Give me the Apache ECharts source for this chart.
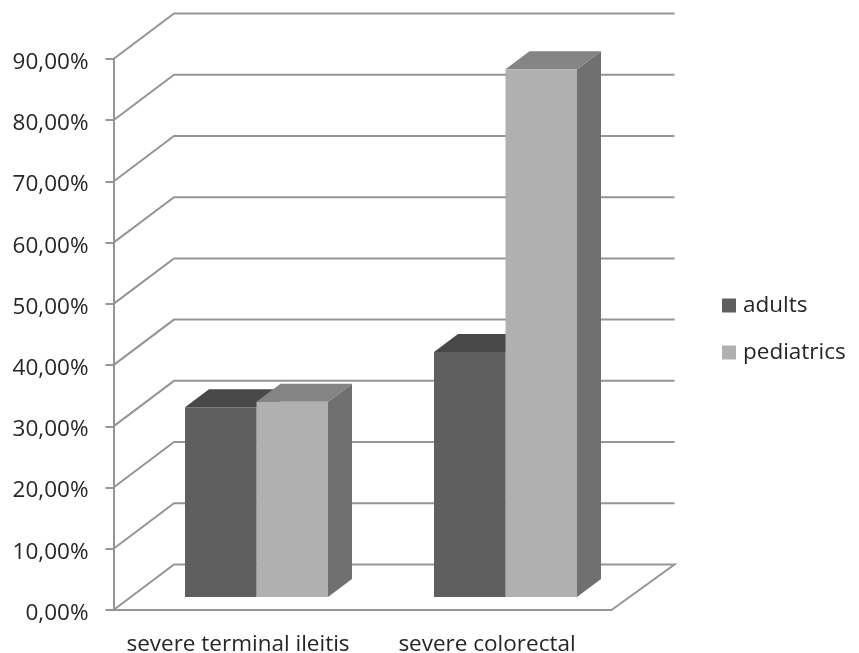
<!DOCTYPE html>
<html>
<head>
<meta charset="utf-8">
<style>html,body{margin:0;padding:0;background:#fff}#chart{width:859px;height:653px}</style>
<script src="https://cdn.jsdelivr.net/npm/echarts@6/dist/echarts.min.js"></script>
</head>
<body>
<div id="chart"></div>
<script>
// Severity share by location, adults versus pediatrics
const categories = ['severe terminal ileitis', 'severe colorectal'];
const adults = [0.31, 0.40];
const pediatrics = [0.319, 0.862];
const gridLevels = [0, 0.1, 0.2, 0.3, 0.4, 0.5, 0.6, 0.7, 0.8, 0.9];

// Oblique projection of the chart box and the bars inside it
const WALL_DX_LEFT = 60.5, WALL_DX_RIGHT = 63, WALL_DY = -45.5;
const BAR_SHIFT_X = 18.5, BAR_SHIFT_Y = -13;
const BAR_DX = 24, BAR_DY = -18;
const BAR_WIDTH = 71.5;

const FONT = '"Open Sans", sans-serif';
const FONT_SIZE = 22.5;
const LINE = '#959595';
const TEXT = '#262626';

function pct(v) {
  return (v * 100).toFixed(2).replace('.', ',') + '%';
}

// Back wall and side wall rules for one gridline level, plus the floor edge
function renderGrid(params, api) {
  const box = params.coordSys;
  const y = api.coord([0, api.value(1)])[1];
  const x0 = box.x, x1 = box.x + box.width;
  const points = [[x0, y], [x0 + WALL_DX_LEFT, y + WALL_DY], [x1 + WALL_DX_RIGHT, y + WALL_DY]];
  if (api.value(1) === 0) points.push([x1, y]);
  return {
    type: 'polyline',
    silent: true,
    shape: { points },
    style: { fill: null, stroke: LINE, lineWidth: 2 }
  };
}

// One 3D bar: side and top faces behind a flat front face
function barRenderer(side, colors) {
  return function (params, api) {
    const cat = api.value(0);
    const top = api.coord([cat, api.value(1)]);
    const base = api.coord([cat, 0]);
    const left = top[0] + BAR_SHIFT_X + (side < 0 ? -BAR_WIDTH : 0);
    const right = left + BAR_WIDTH;
    const yTop = top[1] + BAR_SHIFT_Y;
    const yBase = base[1] + BAR_SHIFT_Y;
    return {
      type: 'group',
      children: [
        { type: 'polygon', shape: { points: [[right, yTop], [right + BAR_DX, yTop + BAR_DY], [right + BAR_DX, yBase + BAR_DY], [right, yBase]] }, style: { fill: colors.side } },
        { type: 'polygon', shape: { points: [[left, yTop], [left + BAR_DX, yTop + BAR_DY], [right + BAR_DX, yTop + BAR_DY], [right, yTop]] }, style: { fill: colors.top } },
        { type: 'rect', shape: { x: left, y: yTop, width: BAR_WIDTH, height: yBase - yTop }, style: { fill: colors.front } }
      ]
    };
  };
}

const toPairs = values => values.map((v, i) => [i, v]);

const chart = echarts.init(document.getElementById('chart'), null, { renderer: 'canvas' });
chart.setOption({
  animation: false,
  backgroundColor: '#ffffff',
  grid: { left: 113.5, top: 59, width: 498, height: 551, containLabel: false, outerBoundsMode: 'none' },
  legend: {
    data: ['adults', 'pediatrics'],
    orient: 'vertical',
    left: 722,
    top: 294,
    padding: 0,
    icon: 'rect',
    itemWidth: 14,
    itemHeight: 14,
    itemGap: 24,
    textStyle: { fontFamily: FONT, fontSize: FONT_SIZE, color: TEXT, padding: [0, 0, 0, 2] }
  },
  xAxis: {
    type: 'category',
    data: categories,
    axisLine: { lineStyle: { color: LINE, width: 2 } },
    axisTick: { length: 7, lineStyle: { color: LINE, width: 2 } },
    axisLabel: { interval: 0, hideOverlap: false, fontFamily: FONT, fontSize: FONT_SIZE, color: TEXT, margin: 23 }
  },
  yAxis: {
    type: 'value',
    min: 0,
    max: 0.9,
    interval: 0.1,
    splitLine: { show: false },
    axisLine: { show: true, lineStyle: { color: LINE, width: 2 } },
    axisTick: { show: true, length: 8, lineStyle: { color: LINE, width: 2 } },
    axisLabel: { fontFamily: FONT, fontSize: FONT_SIZE, color: TEXT, margin: 25, verticalAlign: 'top', padding: [-8, 0, 0, 0], formatter: pct }
  },
  series: [
    {
      name: 'grid',
      type: 'custom',
      z: 1,
      silent: true,
      clip: false,
      renderItem: renderGrid,
      encode: { x: 0, y: 1 },
      data: gridLevels.map(v => [0, v])
    },
    {
      name: 'adults',
      type: 'custom',
      z: 3,
      clip: false,
      itemStyle: { color: '#5f5f5f' },
      renderItem: barRenderer(-1, { front: '#5f5f5f', top: '#484848', side: '#474747' }),
      encode: { x: 0, y: 1 },
      data: toPairs(adults)
    },
    {
      name: 'pediatrics',
      type: 'custom',
      z: 4,
      clip: false,
      itemStyle: { color: '#b0b0b0' },
      renderItem: barRenderer(1, { front: '#b0b0b0', top: '#848484', side: '#707070' }),
      encode: { x: 0, y: 1 },
      data: toPairs(pediatrics)
    }
  ]
});
</script>
</body>
</html>
